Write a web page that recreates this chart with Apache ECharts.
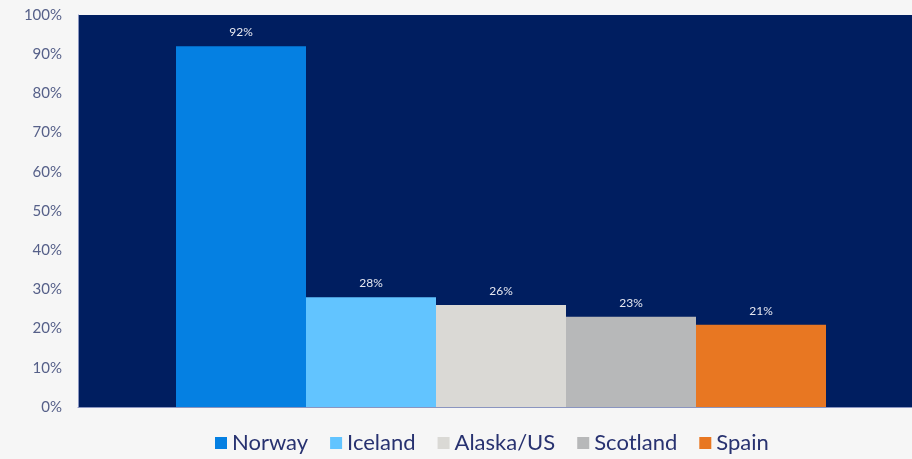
<!DOCTYPE html>
<html><head><meta charset="utf-8">
<script src="https://cdn.jsdelivr.net/npm/echarts@6/dist/echarts.min.js"></script>
<style>html,body{margin:0;padding:0;background:#f6f6f6;overflow:hidden;}#c{width:924px;height:459px;}</style>
</head><body><div id="c"></div>
<script>
const seriesNames = ['Norway', 'Iceland', 'Alaska/US', 'Scotland', 'Spain'];
const seriesValues = [92, 28, 26, 23, 21];
const seriesColors = ['#0580e2', '#62c4ff', '#dad9d5', '#b7b8b9', '#e87722'];
const categories = [''];

const chart = echarts.init(document.getElementById('c'));
const series = seriesNames.map((n, i) => ({
  name: n,
  type: 'bar',
  data: [seriesValues[i]],
  barWidth: 130,
  barGap: '0%',
  itemStyle: { color: seriesColors[i] },
  label: {
    show: true, position: 'top', distance: 8,
    formatter: p => p.value + '%',
    color: '#e6e8f0', fontSize: 12, fontFamily: 'Lato, sans-serif'
  }
}));
chart.setOption({
  animation: false,
  backgroundColor: '#f6f6f6',
  grid: { left: 78, right: 0, top: 15, bottom: 52, show: true, backgroundColor: '#001e60', borderWidth: 0 },
  legend: {
    bottom: 0, left: 210, itemWidth: 12, itemHeight: 12, itemGap: 22, icon: 'rect',
    textStyle: { color: '#283270', fontSize: 22, fontFamily: 'Lato, sans-serif' }
  },
  xAxis: {
    type: 'category', data: categories,
    axisLine: { show: true, lineStyle: { color: '#8a95c0' } },
    axisTick: { show: false }, axisLabel: { show: false }
  },
  yAxis: {
    type: 'value', min: 0, max: 100, interval: 10,
    axisLine: { show: true, lineStyle: { color: '#8a95c0' } },
    splitLine: { show: false },
    axisLabel: { formatter: '{value}%', color: '#566089', fontSize: 15, margin: 16, fontFamily: 'Lato, sans-serif' }
  },
  series: series
});
</script></body></html>
